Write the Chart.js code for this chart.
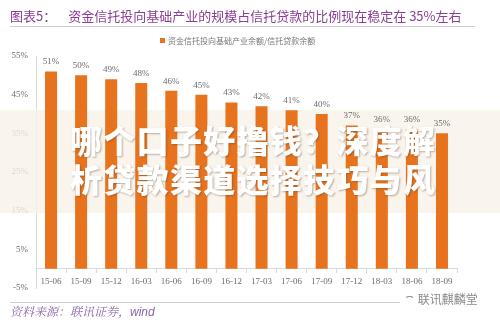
<!DOCTYPE html>
<html>
<head>
<meta charset="utf-8">
<script src="https://cdn.jsdelivr.net/npm/chart.js@4.4.0/dist/chart.umd.min.js"></script>
<style>
  html, body { margin: 0; padding: 0; background: #fff; }
  #wrap { position: relative; width: 500px; height: 324px; overflow: hidden; font-family: "Noto Sans CJK SC", sans-serif; }
  #chart { position: absolute; left: 0; top: 0; }
  .title { position: absolute; left: 10px; top: 6px; font-size: 13px; color: #8b3e96; white-space: nowrap; }
  .title .num { margin-right: 12px; }
  .rule { position: absolute; left: 10px; width: 465px; height: 1px; background: #cfcfcf; }
  .legend { position: absolute; left: 160px; top: 35px; font-size: 8px; color: #777; white-space: nowrap; }
  .legend i { display: inline-block; width: 5px; height: 5px; background: #e8731e; margin-right: 3px; vertical-align: 1px; }
  .source { position: absolute; left: 10px; top: 302px; font-size: 12px; color: #8a67a8; font-style: italic; font-family: "Noto Serif CJK SC", "Noto Sans CJK SC", serif; }
  .source b { font-weight: normal; font-family: "Liberation Sans", sans-serif; }
  .mark { position: absolute; left: 400px; top: 290px; font-size: 12px; color: #8a8a8a; background: #fff; padding: 0 4px; white-space: nowrap; }
</style>
</head>
<body>
<div id="wrap">
  <canvas id="chart" width="500" height="324"></canvas>
  <div class="title"><span class="num">图表5：</span>资金信托投向基础产业的规模占信托贷款的比例现在稳定在 35%左右</div>
  <div class="rule" style="top:26px"></div>
  <div class="legend"><i></i>资金信托投向基础产业余额/信托贷款余额</div>
  <div class="rule" style="top:302px; width:420px"></div>
  <div class="source">资料来源：联讯证券，<b>wind</b></div>
  <div class="mark">⌔ 联讯麒麟堂</div>
</div>
<script>
const categories = ['15-06', '15-09', '15-12', '16-03', '16-06', '16-09', '16-12',
  '17-03', '17-06', '17-09', '17-12', '18-03', '18-06', '18-09'];
const ratio = [51, 50, 49, 48, 46, 45, 43, 42, 41, 40, 37, 36, 36, 35];
const yTicks = [-5, 5, 15, 25, 35, 45, 55];
const watermark = ['哪个口子好撸钱？深度解', '析贷款渠道选择技巧与风'];

const barColor = '#e8731e';
const textGray = '#6b6b6b';

const decor = {
  id: 'decor',
  beforeDatasetsDraw(chart) {
    const ctx = chart.ctx;
    ctx.save();
    ctx.fillStyle = 'rgba(247, 243, 233, 0.8)';
    ctx.fillRect(0, 110, 500, 103);
    ctx.restore();
  },
  afterDatasetsDraw(chart) {
    const ctx = chart.ctx;
    const meta = chart.getDatasetMeta(0);
    ctx.save();
    ctx.font = '9px "Liberation Serif", serif';
    ctx.fillStyle = textGray;
    ctx.textAlign = 'center';
    ctx.textBaseline = 'bottom';
    meta.data.forEach((bar, i) => {
      ctx.fillText(ratio[i] + '%', bar.x, bar.y - 5);
    });
    ctx.restore();
  },
  afterDraw(chart) {
    const ctx = chart.ctx;
    ctx.save();
    ctx.font = '900 32px "Noto Sans CJK SC", sans-serif';
    ctx.textAlign = 'center';
    ctx.textBaseline = 'top';
    ctx.shadowColor = 'rgba(90, 60, 30, 0.4)';
    ctx.shadowBlur = 2;
    ctx.shadowOffsetX = 1;
    ctx.shadowOffsetY = 1;
    ctx.fillStyle = '#ffffff';
    watermark.forEach((line, i) => {
      Array.from(line).forEach((ch, j) => {
        ctx.fillText(ch, 86 + j * 33.3, 125 + i * 39);
      });
    });
    ctx.restore();
  }
};

new Chart(document.getElementById('chart'), {
  type: 'bar',
  data: {
    labels: categories,
    datasets: [{
      label: '资金信托投向基础产业余额/信托贷款余额',
      data: ratio,
      backgroundColor: barColor,
      borderWidth: 0,
      barPercentage: 0.4,
      categoryPercentage: 1.0
    }]
  },
  options: {
    responsive: false,
    animation: false,
    layout: { padding: { left: 0, right: 43, top: 56, bottom: 36 } },
    plugins: {
      legend: { display: false },
      tooltip: { enabled: false }
    },
    scales: {
      x: {
        position: { y: 0 },
        grid: { drawOnChartArea: false, color: '#d9d9d9', tickLength: 4 },
        border: { color: '#d9d9d9' },
        ticks: { color: textGray, font: { size: 9, family: '"Liberation Serif", serif' }, padding: 4, maxRotation: 0 }
      },
      y: {
        min: -5,
        max: 55,
        afterBuildTicks(scale) {
          scale.ticks = yTicks.map(v => ({ value: v }));
        },
        afterFit(scale) { scale.width = 36; },
        grid: { display: false },
        border: { color: '#d5e0d5' },
        ticks: {
          color: textGray,
          font: { size: 9, family: '"Liberation Serif", serif' },
          padding: 0,
          callback: v => v + '%'
        }
      }
    }
  },
  plugins: [decor]
});
</script>
</body>
</html>
